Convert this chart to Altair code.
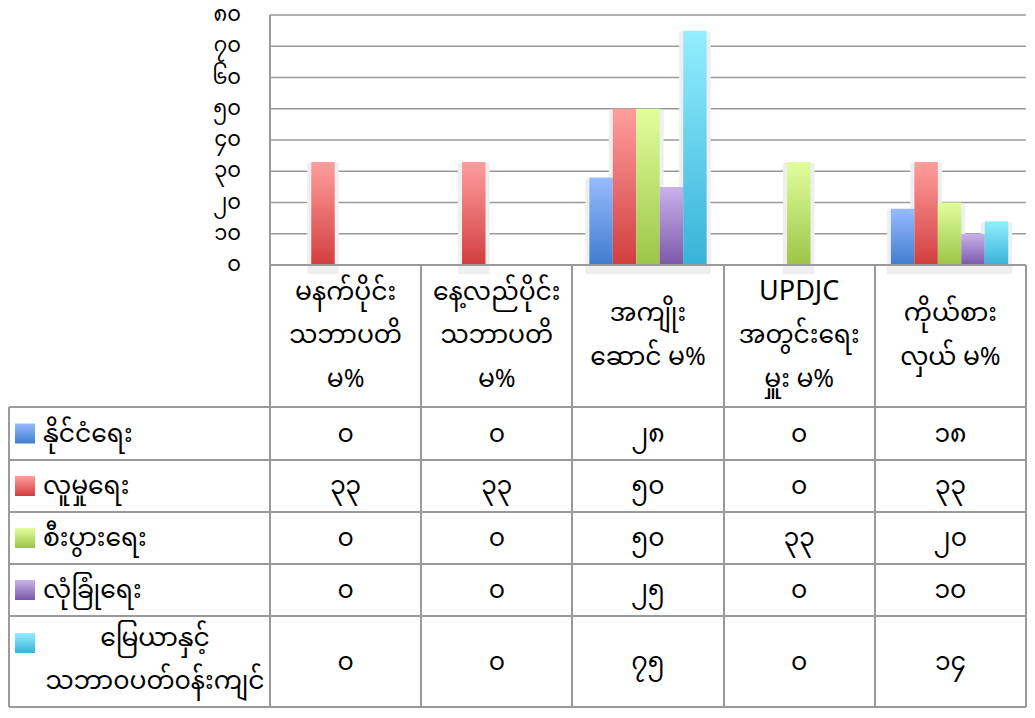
import altair as alt
import pandas as pd

# ---------------- data ----------------
category_lines = [
    ["မနက်ပိုင်း", "သဘာပတိ", "မ%"],
    ["နေ့လည်ပိုင်း", "သဘာပတိ", "မ%"],
    ["အကျိုး", "ဆောင် မ%"],
    ["UPDJC", "အတွင်းရေး", "မှူး မ%"],
    ["ကိုယ်စား", "လှယ် မ%"],
]
categories = [" ".join(c) for c in category_lines]
series_lines = [
    ["နိုင်ငံရေး"],
    ["လူမှုရေး"],
    ["စီးပွားရေး"],
    ["လုံခြုံရေး"],
    ["မြေယာနှင့်", "သဘာ၀ပတ်၀န်းကျင်"],
]
series_names = [" ".join(s) for s in series_lines]
politics = [0, 0, 28, 0, 18]
social = [33, 33, 50, 0, 33]
economic = [0, 0, 50, 33, 20]
security = [0, 0, 25, 0, 10]
land_env = [0, 0, 75, 0, 14]
series_values = [politics, social, economic, security, land_env]

y_tick_values = [0, 10, 20, 30, 40, 50, 60, 70, 80]
y_tick_labels = ["၀", "၁၀", "၂၀", "၃၀", "၄၀", "၅၀", "၆၀", "၇၀", "၈၀"]
MM_DIGITS = "၀၁၂၃၄၅၆၇၈၉"


def to_mm(n):
    return "".join(MM_DIGITS[int(c)] for c in str(n))


# ---------------- styles / layout ----------------
gradients = [
    ("#98bbff", "#3f7dcd"),
    ("#ff9e9e", "#d13e3e"),
    ("#e0ff9c", "#9cc548"),
    ("#cab2ec", "#7b58aa"),
    ("#93eeff", "#37b3d8"),
]
FONT = "Noto Sans Myanmar, Padauk, Myanmar Text, Noto Sans, DejaVu Sans"
FS = 25
FS_LATIN = 27
FS_YLAB = 21
GRID = "#9a9a9a"

W, H = 1019, 700


def L(p):  # page pixel -> chart pixel
    return p - 8


col_edges = [L(x) for x in [270, 421, 572, 724, 875, 1026]]
row_edges = [L(y) for y in [265, 407, 460, 512, 564, 616, 707]]
plot_top = L(15)
plot_bottom = row_edges[0]
table_left = 1
row_centers = [(row_edges[i] + row_edges[i + 1]) / 2 for i in range(1, 6)]
HEADER_CENTER = L(335)
HEADER_LH = 43.5
LAST_CENTER = L(659)
LAST_LH = 43


def grad(top, bot):
    return alt.Gradient(
        gradient="linear",
        stops=[alt.GradientStop(color=top, offset=0), alt.GradientStop(color=bot, offset=1)],
        x1=0, x2=0, y1=0, y2=1,
    )


x_scale = alt.Scale(domain=categories, range=[col_edges[0], col_edges[-1]],
                    paddingInner=0.222, paddingOuter=0.118)
y_scale = alt.Scale(domain=[0, 80], range=[plot_bottom, plot_top], nice=False, zero=True)
ident_x = alt.Scale(domain=[0, W], range=[0, W])
ident_y = alt.Scale(domain=[0, H], range=[0, H])

# ---------------- bars ----------------
bars_df = pd.DataFrame(
    [{"cat": c, "series": s, "value": v[j]}
     for s, v in zip(series_names, series_values)
     for j, c in enumerate(categories)]
)
base = alt.Chart(bars_df).encode(
    x=alt.X("cat:N", scale=x_scale, axis=None, sort=categories),
    xOffset=alt.XOffset("series:N", scale=alt.Scale(domain=series_names, paddingInner=0, paddingOuter=0),
                        sort=series_names),
    y=alt.Y("value:Q", scale=y_scale, axis=None),
)
bar_layers = [base.transform_filter("datum.value > 0").mark_bar(
    color="#efefef", stroke="#efefef", strokeWidth=8, yOffset=5, xOffset=1)]
for s, (top, bot) in zip(series_names, gradients):
    bar_layers.append(
        base.transform_filter(alt.datum.series == s).mark_bar(color=grad(top, bot))
    )
bars = alt.layer(*bar_layers)

# ---------------- grid + y labels ----------------
ticks_df = pd.DataFrame({"v": y_tick_values, "label": y_tick_labels})
grid = alt.Chart(ticks_df).mark_rule(color=GRID, strokeWidth=1.6).encode(
    y=alt.Y("v:Q", scale=y_scale, axis=None),
    x=alt.value(col_edges[0]),
    x2=alt.value(col_edges[-1]),
)
ylabels = alt.Chart(ticks_df).mark_text(
    align="right", baseline="middle", font=FONT, fontSize=FS_YLAB, color="#000"
).encode(
    y=alt.Y("v:Q", scale=y_scale, axis=None),
    x=alt.value(L(241)),
    text="label:N",
)

# ---------------- table frame ----------------
segs = []
segs.append((col_edges[0], row_edges[0], col_edges[-1], row_edges[0]))
for y in row_edges[1:]:
    segs.append((table_left, y, col_edges[-1], y))
segs.append((table_left, row_edges[1], table_left, row_edges[-1]))
segs.append((col_edges[0], plot_top, col_edges[0], row_edges[-1]))
for x in col_edges[1:]:
    segs.append((x, row_edges[0], x, row_edges[-1]))
frame_df = pd.DataFrame(segs, columns=["x1", "y1", "x2", "y2"])
frame = alt.Chart(frame_df).mark_rule(color=GRID, strokeWidth=2).encode(
    x=alt.X("x1:Q", scale=ident_x, axis=None),
    x2="x2:Q",
    y=alt.Y("y1:Q", scale=ident_y, axis=None),
    y2="y2:Q",
)

# ---------------- header (category labels, one datum per line) ----------------
hdr_rows = []
for c, lines in zip(categories, category_lines):
    n = len(lines)
    for k, t in enumerate(lines):
        hdr_rows.append({
            "cat": c, "text": t,
            "row_y": HEADER_CENTER + (k - (n - 1) / 2) * HEADER_LH,
            "fs": FS_LATIN if t.isascii() else FS,
        })
header = alt.Chart(pd.DataFrame(hdr_rows)).mark_text(
    baseline="middle", align="center", font=FONT, color="#000"
).encode(
    x=alt.X("cat:N", scale=x_scale, axis=None, sort=categories),
    y=alt.Y("row_y:Q", scale=ident_y, axis=None),
    size=alt.Size("fs:Q", scale=None, legend=None),
    text="text:N",
)

# ---------------- table cells ----------------
cells_df = pd.DataFrame(
    [{"cat": c, "row_y": row_centers[i], "text": to_mm(v[j])}
     for i, v in enumerate(series_values)
     for j, c in enumerate(categories)]
)
cells = alt.Chart(cells_df).mark_text(
    baseline="middle", align="center", font=FONT, fontSize=FS, color="#000"
).encode(
    x=alt.X("cat:N", scale=x_scale, axis=None, sort=categories),
    y=alt.Y("row_y:Q", scale=ident_y, axis=None),
    text="text:N",
)

# ---------------- row labels + swatches ----------------
lab_rows = []
for i, lines in enumerate(series_lines):
    n = len(lines)
    center = LAST_CENTER if n > 1 else row_centers[i]
    for k, t in enumerate(lines):
        lab_rows.append({
            "text": t,
            "row_y": center + (k - (n - 1) / 2) * LAST_LH,
            "multi": n > 1,
        })
lab_df = pd.DataFrame(lab_rows)
row_labels = alt.Chart(lab_df).transform_filter("!datum.multi").mark_text(
    baseline="middle", align="left", font=FONT, fontSize=FS, color="#000"
).encode(
    x=alt.value(L(43)),
    y=alt.Y("row_y:Q", scale=ident_y, axis=None),
    text="text:N",
)
last_label = alt.Chart(lab_df).transform_filter("datum.multi").mark_text(
    baseline="middle", align="center", font=FONT, fontSize=FS, color="#000"
).encode(
    x=alt.value(L(155)),
    y=alt.Y("row_y:Q", scale=ident_y, axis=None),
    text="text:N",
)

sw_centers = row_centers[:4] + [L(643)]
swatches = []
for i, (top, bot) in enumerate(gradients):
    sdf = pd.DataFrame({"x1": [L(15)], "x2": [L(35)],
                        "y1": [sw_centers[i] - 10], "y2": [sw_centers[i] + 10]})
    swatches.append(
        alt.Chart(sdf).mark_rect(color=grad(top, bot)).encode(
            x=alt.X("x1:Q", scale=ident_x, axis=None), x2="x2:Q",
            y=alt.Y("y1:Q", scale=ident_y, axis=None), y2="y2:Q",
        )
    )

chart = alt.layer(
    grid, bars, frame, ylabels, header, cells, row_labels, last_label, *swatches
).resolve_scale(
    x="independent", y="independent", size="independent"
).properties(
    width=W, height=H, padding=0, autosize=alt.AutoSizeParams(type="none"),
    background="white",
).configure_view(stroke=None)

chart.save("out.html", embed_options={"renderer": "svg", "actions": False})
